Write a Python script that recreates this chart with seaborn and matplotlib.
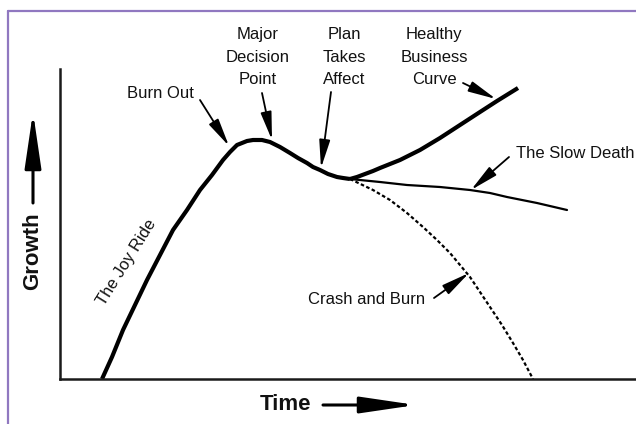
import matplotlib
matplotlib.use('Agg')
import matplotlib.pyplot as plt
from matplotlib.lines import Line2D
import seaborn as sns
import pandas as pd

# curves (time, growth)
main_t = [42, 52, 63, 75, 87, 100, 113, 127, 140, 152, 163, 170, 177, 187, 193,
          202, 210, 220, 230, 238, 247, 253, 260, 268, 277, 283, 290]
main_g = [0, 22, 49, 74, 99, 124, 149, 169, 189, 204, 219, 227, 234, 238, 239,
          239, 237, 232, 226, 221, 216, 212, 209, 205, 202, 201, 200]
healthy_t = [290, 297, 305, 313, 320, 340, 360, 380, 400, 420, 437, 458]
healthy_g = [200, 202, 205, 208, 211, 219, 229, 241, 254, 267, 278, 291]
slow_t = [290, 320, 347, 380, 410, 430, 447, 477, 507]
slow_g = [200, 197, 194, 192, 189, 186, 182, 176, 169]
crash_t = [290, 313, 330, 347, 363, 377, 390, 400, 410, 420, 430, 442, 453, 463, 473]
crash_g = [200, 189, 179, 166, 152, 139, 126, 114, 102, 87, 72, 54, 36, 19, 0]

# label text, text anchor, alignment, arrow start, arrow tip
labels = ['Burn Out', 'Major\nDecision\nPoint', 'Plan\nTakes\nAffect',
          'Healthy\nBusiness\nCurve', 'The Slow Death', 'Crash and Burn']
label_pos = [(100, 285), (198, 322), (284, 322), (374, 322), (456, 225), (307, 79)]
label_ha = ['center', 'center', 'center', 'center', 'left', 'center']
arrow_from = [(140, 279), (202, 286), (271, 287), (403, 296), (449, 222), (374, 81)]
arrow_to = [(169, 233), (212, 239), (261, 211), (436, 280), (411, 189), (409, 106)]

sns.set_theme(style='white')
plt.rcParams['font.family'] = ['Liberation Sans', 'DejaVu Sans']

fig = plt.figure(figsize=(6.36, 4.24), dpi=100)
ax = fig.add_axes([60 / 636, 45 / 424, 576 / 636, 310 / 424])

df_main = pd.DataFrame({'t': main_t, 'g': main_g})
df_healthy = pd.DataFrame({'t': healthy_t, 'g': healthy_g})
df_slow = pd.DataFrame({'t': slow_t, 'g': slow_g})
df_crash = pd.DataFrame({'t': crash_t, 'g': crash_g})

sns.lineplot(data=df_main, x='t', y='g', sort=False, color='black', lw=3.0, ax=ax,
             solid_capstyle='butt', solid_joinstyle='round')
sns.lineplot(data=df_healthy, x='t', y='g', sort=False, color='black', lw=3.0, ax=ax,
             solid_capstyle='butt', solid_joinstyle='round')
sns.lineplot(data=df_slow, x='t', y='g', sort=False, color='black', lw=1.6, ax=ax)
sns.lineplot(data=df_crash, x='t', y='g', sort=False, color='black', lw=1.6, ax=ax,
             linestyle=(0, (1.6, 1.1)))

ax.set_xlim(0, 576)
ax.set_ylim(0, 310)
ax.set_xticks([])
ax.set_yticks([])
ax.set_xlabel('')
ax.set_ylabel('')
for s in ['top', 'right']:
    ax.spines[s].set_visible(False)
for s in ['left', 'bottom']:
    ax.spines[s].set_color('#1a1a1a')
    ax.spines[s].set_linewidth(1.8)

for txt, pos, ha, a0, a1 in zip(labels, label_pos, label_ha, arrow_from, arrow_to):
    ax.text(pos[0], pos[1], txt, ha=ha, va='center', fontsize=12,
            linespacing=1.6, color='#111111', clip_on=False)
    ax.annotate('', xy=a1, xytext=a0,
                arrowprops=dict(arrowstyle='-|>,head_length=1.7,head_width=0.33',
                                mutation_scale=10, lw=1.3, color='black',
                                shrinkA=0, shrinkB=0))

ax.text(67, 117, 'The Joy Ride', rotation=58, ha='center', va='center',
        fontsize=12, color='#111111')

# axis titles with their arrows
fig.text(285 / 636, 1 - 405 / 424, 'Time', ha='center', va='center',
         fontsize=16, fontweight='bold', color='#111111')
fig.text(33 / 636, 1 - 251 / 424, 'Growth', ha='center', va='center',
         fontsize=16, fontweight='bold', rotation=90, color='#111111')
fig_arrow = dict(arrowstyle='-|>,head_length=3.4,head_width=0.5',
                 mutation_scale=10, lw=2.2, color='black', shrinkA=0, shrinkB=0)
ax.annotate('', xy=(416 / 636, 1 - 405 / 424), xytext=(323 / 636, 1 - 405 / 424),
            xycoords='figure fraction', textcoords='figure fraction',
            arrowprops=fig_arrow)
ax.annotate('', xy=(33 / 636, 1 - 112 / 424), xytext=(33 / 636, 1 - 203 / 424),
            xycoords='figure fraction', textcoords='figure fraction',
            arrowprops=fig_arrow)

# purple frame
fig.add_artist(Line2D([8 / 636, 1], [1 - 11 / 424, 1 - 11 / 424],
                      transform=fig.transFigure, color='#9078c0', lw=1.6))
fig.add_artist(Line2D([8 / 636, 8 / 636], [0, 1 - 11 / 424],
                      transform=fig.transFigure, color='#9078c0', lw=1.6))

fig.savefig('out.png', dpi=100)
plt.close()
